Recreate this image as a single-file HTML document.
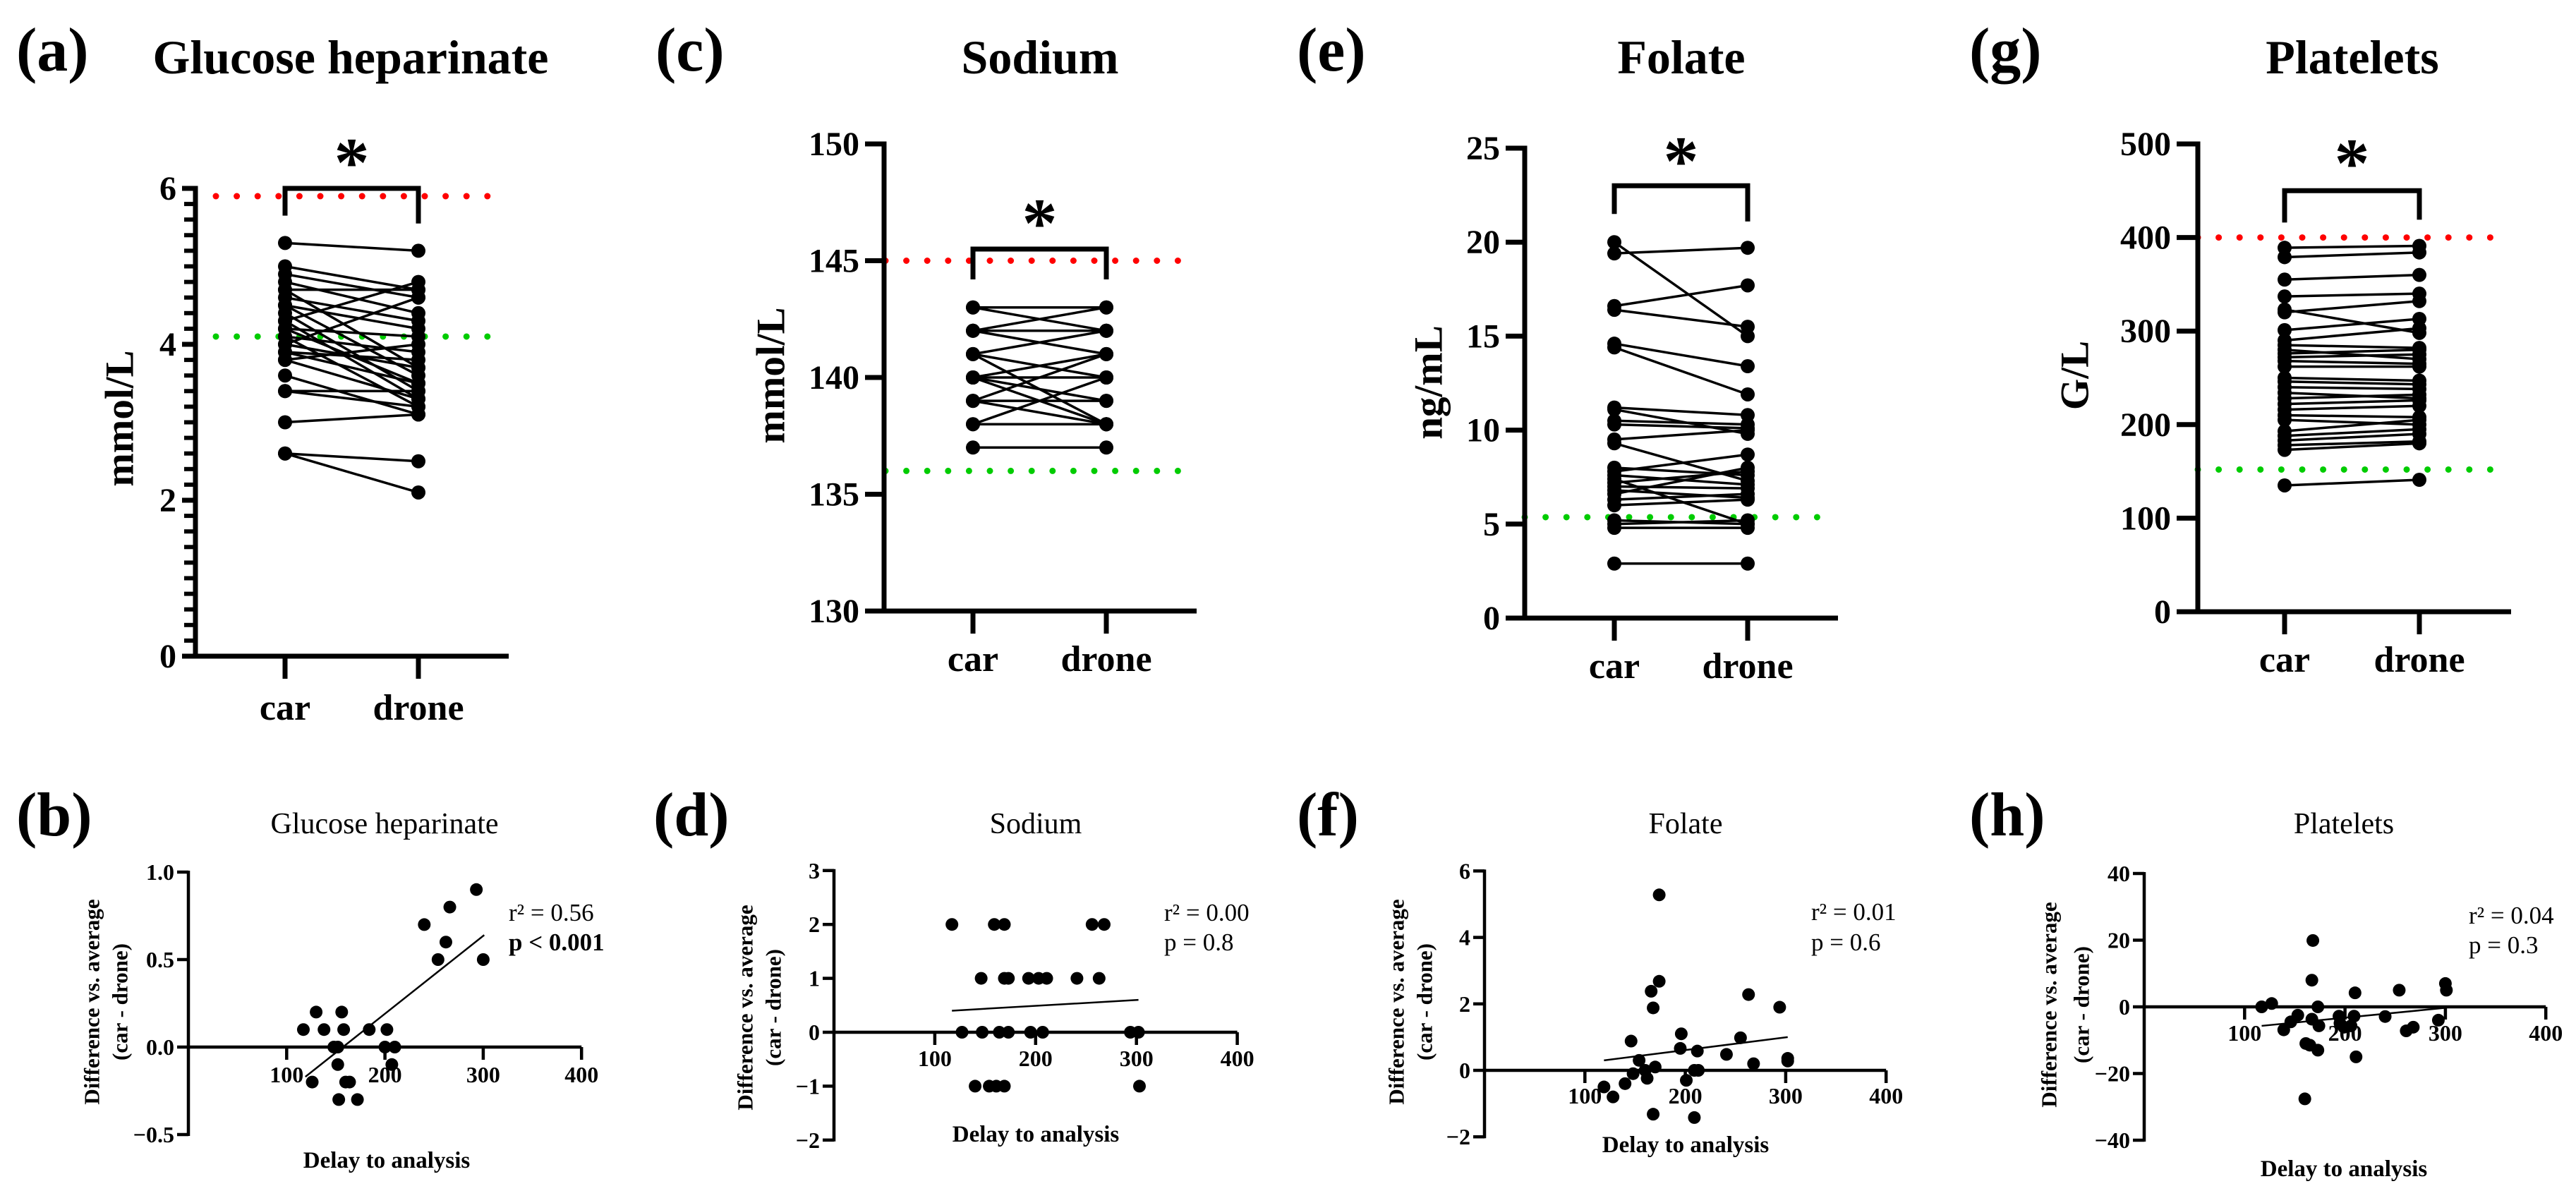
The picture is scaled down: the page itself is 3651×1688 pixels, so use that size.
<!DOCTYPE html>
<html><head><meta charset="utf-8">
<style>
html,body{margin:0;padding:0;background:#fff;}
svg{display:block;}
text{font-family:"Liberation Serif",serif;fill:#000;}
</style></head>
<body>
<svg id="fig" xmlns="http://www.w3.org/2000/svg" width="3651" height="1688" viewBox="0 0 3651 1688">
<rect x="0" y="0" width="3651" height="1688" fill="#fff"/>
<!-- panel letters -->
<text x="23" y="100" font-size="88" font-weight="bold">(a)</text>
<text x="929" y="100" font-size="88" font-weight="bold">(c)</text>
<text x="1838" y="100" font-size="88" font-weight="bold">(e)</text>
<text x="2791" y="100" font-size="88" font-weight="bold">(g)</text>
<text x="23" y="1184" font-size="88" font-weight="bold">(b)</text>
<text x="926" y="1184" font-size="88" font-weight="bold">(d)</text>
<text x="1838" y="1184" font-size="88" font-weight="bold">(f)</text>
<text x="2791" y="1184" font-size="88" font-weight="bold">(h)</text>
<!-- top titles -->
<text x="497" y="104" font-size="68" font-weight="bold" text-anchor="middle">Glucose heparinate</text>
<text x="1474" y="104" font-size="68" font-weight="bold" text-anchor="middle">Sodium</text>
<text x="2383" y="104" font-size="68" font-weight="bold" text-anchor="middle">Folate</text>
<text x="3334" y="104" font-size="68" font-weight="bold" text-anchor="middle">Platelets</text>
<!-- bottom titles -->
<text x="545" y="1181" font-size="42" text-anchor="middle">Glucose heparinate</text>
<text x="1468" y="1181" font-size="42" text-anchor="middle">Sodium</text>
<text x="2389" y="1181" font-size="42" text-anchor="middle">Folate</text>
<text x="3322" y="1181" font-size="42" text-anchor="middle">Platelets</text>
<!-- top y titles -->
<text transform="translate(170,593) rotate(-90)" font-size="57" font-weight="bold" text-anchor="middle" dominant-baseline="central">mmol/L</text>
<text transform="translate(1093,532) rotate(-90)" font-size="57" font-weight="bold" text-anchor="middle" dominant-baseline="central">mmol/L</text>
<text transform="translate(2025,542) rotate(-90)" font-size="57" font-weight="bold" text-anchor="middle" dominant-baseline="central">ng/mL</text>
<text transform="translate(2941,532) rotate(-90)" font-size="57" font-weight="bold" text-anchor="middle" dominant-baseline="central">G/L</text>
<!-- bottom y titles -->
<g font-size="31" font-weight="bold" text-anchor="middle">
<text transform="translate(130,1420) rotate(-90)" dominant-baseline="central">Difference vs. average</text>
<text transform="translate(170,1420) rotate(-90)" dominant-baseline="central">(car - drone)</text>
<text transform="translate(1056,1428) rotate(-90)" dominant-baseline="central">Difference vs. average</text>
<text transform="translate(1096,1428) rotate(-90)" dominant-baseline="central">(car - drone)</text>
<text transform="translate(1979,1420) rotate(-90)" dominant-baseline="central">Difference vs. average</text>
<text transform="translate(2019,1420) rotate(-90)" dominant-baseline="central">(car - drone)</text>
<text transform="translate(2904,1424) rotate(-90)" dominant-baseline="central">Difference vs. average</text>
<text transform="translate(2950,1424) rotate(-90)" dominant-baseline="central">(car - drone)</text>
</g>
<g font-size="33" font-weight="bold" text-anchor="middle">
<text x="548" y="1655">Delay to analysis</text>
<text x="1468" y="1618">Delay to analysis</text>
<text x="2389" y="1633">Delay to analysis</text>
<text x="3322" y="1667">Delay to analysis</text>
</g>
<g font-size="35" fill="#333">
<text x="721" y="1305">r² = 0.56</text>
<text x="721" y="1347" font-weight="bold">p &lt; 0.001</text>
<text x="1650" y="1305">r² = 0.00</text>
<text x="1650" y="1347">p = 0.8</text>
<text x="2567" y="1304">r² = 0.01</text>
<text x="2567" y="1347">p = 0.6</text>
<text x="3499" y="1309">r² = 0.04</text>
<text x="3499" y="1351">p = 0.3</text>
</g>
</svg>
<script>
// ---------- data ----------
const glucoseCar   = [5.3,5.0,4.9,4.8,4.7,4.7,4.6,4.5,4.5,4.4,4.3,4.3,4.2,4.2,4.1,4.1,4.0,4.0,3.9,3.9,3.8,3.8,3.6,3.4,3.4,3.0,2.6,2.6];
const glucoseDrone = [5.2,4.7,4.6,4.4,4.7,3.7,4.3,3.6,4.2,3.4,4.8,3.3,4.1,3.5,3.9,3.2,4.6,3.7,3.5,3.8,4.0,3.3,3.1,3.4,3.2,3.1,2.5,2.1];
const glucoseTicks = [0,2,4,6];
const sodiumCar    = [143,143,142,142,142,141,141,141,140,140,140,140,139,139,139,138,138,137];
const sodiumDrone  = [143,142,143,142,141,142,140,138,141,140,139,138,141,139,138,138,140,137];
const sodiumTicks  = [130,135,140,145,150];
const folateCar    = [20.0,19.4,16.6,16.4,14.6,14.4,11.2,11.1,10.5,10.3,9.5,9.3,8.0,7.8,7.6,7.4,7.2,7.0,6.8,6.6,6.3,6.0,5.2,5.0,4.8,2.9];
const folateDrone  = [15.0,19.7,17.7,15.5,13.4,11.9,10.8,9.8,10.3,10.1,10.0,7.3,7.6,8.7,7.1,5.0,7.8,6.9,6.4,8.0,6.6,6.3,5.0,5.2,4.8,2.9];
const folateTicks  = [0,5,10,15,20,25];
const plateletCar   = [389,379,355,337,323,320,301,290,285,280,276,272,268,262,250,246,240,234,228,222,216,210,205,193,188,183,178,173,135];
const plateletDrone = [391,384,360,340,298,332,313,303,282,270,280,275,265,262,247,243,238,228,232,226,220,208,200,205,195,190,182,180,141];
const plateletTicks = [0,100,200,300,400,500];
const groupLabels = ["car","drone"];

const delayTicks = [100,200,300,400];
const bDelay = [117,138,158,130,156,148,152,184,202,200,210,207,152,126,160,164,153,172,240,266,293,262,254,300];
const bDiff  = [0.1,0.1,0.1,0.2,0.2,0,0,0.1,0.1,0,0,-0.1,-0.1,-0.2,-0.2,-0.2,-0.3,-0.3,0.7,0.8,0.9,0.6,0.5,0.5];
const bFit   = [[119,-0.17],[301,0.64]];
const bTicks = [-0.5,0.0,0.5,1.0];
const bTickLabels = ["−0.5","0.0","0.5","1.0"];
const dDelay = [117,159,169,256,268,146,169,173,193,203,211,241,263,127,147,164,173,195,207,294,302,140,154,161,169,303];
const dDiff  = [2,2,2,2,2,1,1,1,1,1,1,1,1,0,0,0,0,0,0,0,0,-1,-1,-1,-1,-1];
const dFit   = [[117,0.4],[302,0.6]];
const dTicks = [-2,-1,0,1,2,3];
const dTickLabels = ["−2","−1","0","1","2","3"];
const fDelay = [174,174,166,168,263,294,196,146,255,195,212,241,154,268,302,302,170,160,209,213,148,162,201,140,119,128,168,209];
const fDiff  = [5.28,2.68,2.38,1.88,2.28,1.9,1.1,0.88,0.98,0.66,0.58,0.48,0.3,0.2,0.36,0.28,0.1,0,0,0,-0.1,-0.24,-0.3,-0.4,-0.5,-0.8,-1.32,-1.42];
const fFit   = [[119,0.3],[302,1.0]];
const fTicks = [-2,0,2,4,6];
const fTickLabels = ["−2","0","2","4","6"];
const hDelay = [168,167,210,254,300,301,117,127,173,153,167,194,209,240,293,146,174,195,199,206,139,261,268,161,165,173,211,160];
const hDiff  = [19.9,8,4.2,5,7,5,0,1,0,-2.5,-3.7,-2.8,-2.8,-2.9,-4,-4.5,-5.7,-4.9,-6.1,-5.7,-6.9,-7.2,-6.1,-11,-11.5,-13,-15,-27.6];
const hFit   = [[117,-5.7],[300,-0.3]];
const hTicks = [-40,-20,0,20,40];
const hTickLabels = ["−40","−20","0","20","40"];

const NS = "http://www.w3.org/2000/svg";
const svg = document.getElementById("fig");
function mk(tag, attrs, name, inter) {
  const el = document.createElementNS(NS, tag);
  for (const k in attrs) el.setAttribute(k, attrs[k]);
  
  
  svg.appendChild(el);
  return el;
}
function txt(x, y, s, size, anchor, weight, name) {
  const el = mk("text", {x:x, y:y, "font-size":size, "text-anchor":anchor, "font-weight":weight}, name, false);
  el.textContent = s;
  return el;
}

// ---------- paired panels ----------
function paired(p) {
  const y = v => p.y0 - (v - p.vmin) * p.pxPerUnit;
  const sw = 7;
  if (p.red !== null) mk("line", {x1:p.dot0, x2:p.dot1, y1:y(p.red), y2:y(p.red), stroke:"#ff0000", "stroke-width":9, "stroke-linecap":"round", "stroke-dasharray":"0 29.6"}, p.id + "-upper-reference-line", false);
  mk("line", {x1:p.dot0, x2:p.dot1, y1:y(p.green), y2:y(p.green), stroke:"#00cc00", "stroke-width":9, "stroke-linecap":"round", "stroke-dasharray":"0 29.6"}, p.id + "-lower-reference-line", false);
  const yTop = y(p.ticks[p.ticks.length - 1]);
  mk("line", {x1:p.axisX, x2:p.axisX, y1:yTop - sw/2, y2:p.y0 + sw/2, stroke:"#000", "stroke-width":sw}, p.id + "-y-axis", false);
  mk("line", {x1:p.tickX0, x2:p.endX, y1:p.y0, y2:p.y0, stroke:"#000", "stroke-width":sw}, p.id + "-x-axis", false);
  if (p.minor) {
    for (let v = p.vmin; v <= p.ticks[p.ticks.length - 1] + 1e-9; v += p.minor) {
      mk("line", {x1:p.axisX - 16, x2:p.axisX, y1:y(v), y2:y(v), stroke:"#000", "stroke-width":6}, p.id + "-minor-tick", false);
    }
  }
  p.ticks.forEach(t => {
    mk("line", {x1:p.tickX0, x2:p.axisX, y1:y(t), y2:y(t), stroke:"#000", "stroke-width":sw}, p.id + "-y-tick", false);
    txt(p.tickX0 - 8, y(t) + 16, String(t), 48, "end", "bold", p.id + "-y-tick-label");
  });
  [p.carX, p.droneX].forEach((x, i) => {
    mk("line", {x1:x, x2:x, y1:p.y0, y2:p.y0 + 32, stroke:"#000", "stroke-width":sw}, p.id + "-x-tick", false);
    txt(x, p.y0 + p.labelOff, groupLabels[i], 52, "middle", "bold", p.id + "-x-tick-label-" + groupLabels[i]);
  });
  p.car.forEach((c, i) => {
    mk("line", {x1:p.carX, x2:p.droneX, y1:y(c), y2:y(p.drone[i]), stroke:"#000", "stroke-width":3.5}, p.id + "-pair-line", false);
  });
  p.car.forEach(c => mk("circle", {cx:p.carX, cy:y(c), r:10, fill:"#000"}, p.id + "-car-point", false));
  p.drone.forEach(d => mk("circle", {cx:p.droneX, cy:y(d), r:10, fill:"#000"}, p.id + "-drone-point", false));
  const bt = y(p.brTop);
  mk("polyline", {points:`${p.carX},${y(p.brL)} ${p.carX},${bt} ${p.droneX},${bt} ${p.droneX},${y(p.brR)}`, fill:"none", stroke:"#000", "stroke-width":sw}, p.id + "-significance-bracket", false);
  const st = txt((p.carX + p.droneX) / 2, y(p.starV) + 46, "*", 100, "middle", "bold", p.id + "-significance-star");
  st.setAttribute("font-family", "Liberation Sans, sans-serif");
}

paired({id:"glucose", axisX:277, tickX0:258, carX:404, droneX:593, endX:721, y0:930, vmin:0, pxPerUnit:110.5,
  ticks:glucoseTicks, minor:0.2, red:5.9, green:4.1, dot0:306, dot1:698, brTop:6.0, brL:5.65, brR:5.55, starV:6.45,
  car:glucoseCar, drone:glucoseDrone, labelOff:90});
paired({id:"sodium", axisX:1253, tickX0:1226, carX:1379, droneX:1568, endX:1696, y0:866, vmin:130, pxPerUnit:33.1,
  ticks:sodiumTicks, minor:0, red:145, green:136, dot0:1255, dot1:1673, brTop:145.5, brL:144.2, brR:144.2, starV:147.0,
  car:sodiumCar, drone:sodiumDrone, labelOff:85});
paired({id:"folate", axisX:2161, tickX0:2134, carX:2288, droneX:2477, endX:2605, y0:876, vmin:0, pxPerUnit:26.64,
  ticks:folateTicks, minor:0, red:null, green:5.37, dot0:2161, dot1:2585, brTop:23.0, brL:21.5, brR:21.1, starV:24.8,
  car:folateCar, drone:folateDrone, labelOff:85});
paired({id:"platelets", axisX:3115, tickX0:3085, carX:3238, droneX:3429, endX:3559, y0:867, vmin:0, pxPerUnit:1.326,
  ticks:plateletTicks, minor:0, red:400, green:152, dot0:3115, dot1:3532, brTop:450, brL:416, brR:419, starV:489,
  car:plateletCar, drone:plateletDrone, labelOff:85});

// ---------- scatter panels ----------
function scatter(p) {
  const x = v => p.x0 + v * p.pxPerX;
  const y = v => p.yZero - v * p.pxPerY;
  const yTop = y(p.ticks[p.ticks.length - 1]), yBot = y(p.ticks[0]);
  mk("line", {x1:p.x0, x2:p.x0, y1:yTop - 2, y2:yBot + 2, stroke:"#000", "stroke-width":4.5}, p.id + "-y-axis", false);
  mk("line", {x1:p.x0, x2:x(400), y1:y(0), y2:y(0), stroke:"#000", "stroke-width":4.5}, p.id + "-x-axis", false);
  p.ticks.forEach((t, i) => {
    mk("line", {x1:p.x0 - 16, x2:p.x0, y1:y(t), y2:y(t), stroke:"#000", "stroke-width":4.5}, p.id + "-y-tick", false);
    txt(p.x0 - 20, y(t) + 11, p.tickLabels[i], 32, "end", "bold", p.id + "-y-tick-label");
  });
  delayTicks.forEach(t => {
    mk("line", {x1:x(t), x2:x(t), y1:y(0), y2:y(0) + 18, stroke:"#000", "stroke-width":4.5}, p.id + "-x-tick", false);
    txt(x(t), p.xLabelY, String(t), 32, "middle", "bold", p.id + "-x-tick-label");
  });
  mk("line", {x1:x(p.fit[0][0]), y1:y(p.fit[0][1]), x2:x(p.fit[1][0]), y2:y(p.fit[1][1]), stroke:"#000", "stroke-width":2.5}, p.id + "-regression-line", false);
  p.dx.forEach((d, i) => mk("circle", {cx:x(d), cy:y(p.dy[i]), r:9, fill:"#000"}, p.id + "-point", false));
}
scatter({id:"scatter-glucose", x0:267, pxPerX:1.393, yZero:1484, pxPerY:248, ticks:bTicks, tickLabels:bTickLabels, xLabelY:1534, fit:bFit, dx:bDelay, dy:bDiff});
scatter({id:"scatter-sodium", x0:1182, pxPerX:1.429, yZero:1463, pxPerY:76.4, ticks:dTicks, tickLabels:dTickLabels, xLabelY:1511, fit:dFit, dx:dDelay, dy:dDiff});
scatter({id:"scatter-folate", x0:2104, pxPerX:1.423, yZero:1517, pxPerY:47.1, ticks:fTicks, tickLabels:fTickLabels, xLabelY:1564, fit:fFit, dx:fDelay, dy:fDiff});
scatter({id:"scatter-platelets", x0:3039, pxPerX:1.423, yZero:1427, pxPerY:4.725, ticks:hTicks, tickLabels:hTickLabels, xLabelY:1475, fit:hFit, dx:hDelay, dy:hDiff});
</script>
</body></html>
